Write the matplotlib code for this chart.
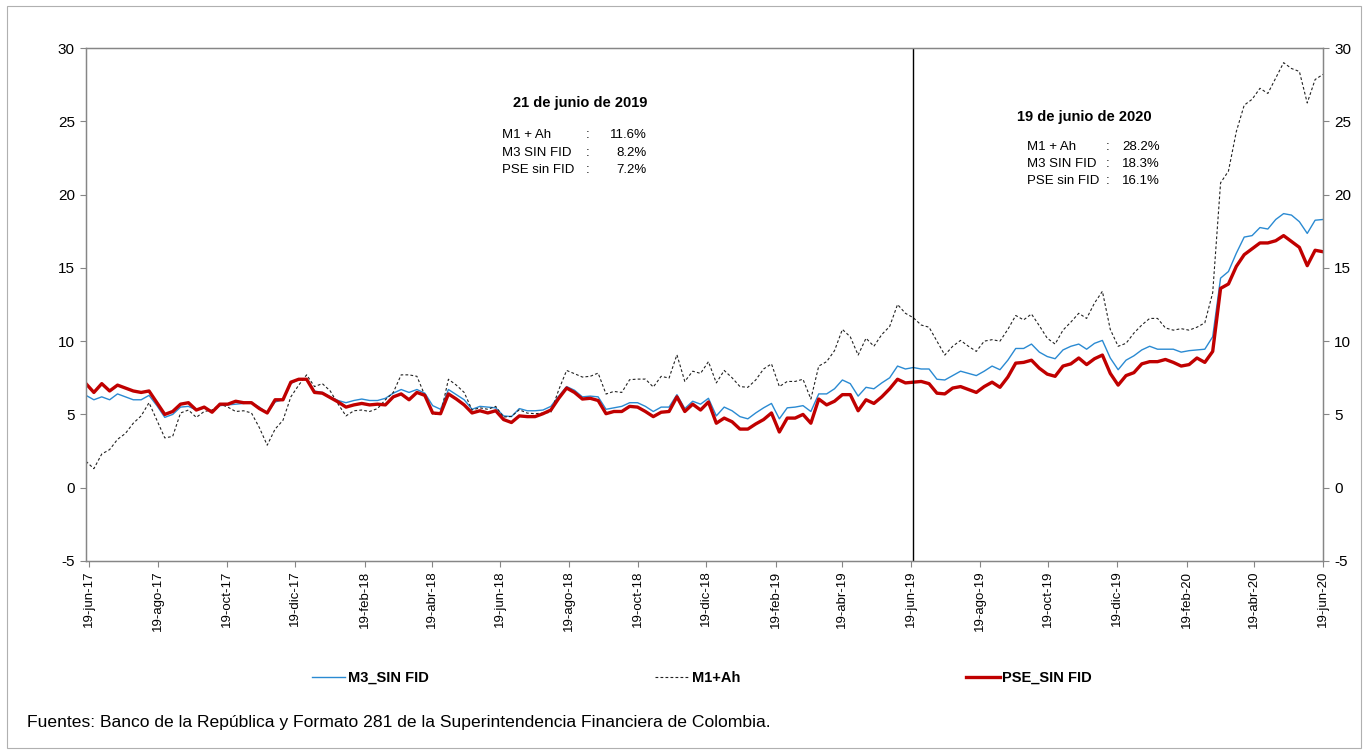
import numpy as np
import pandas as pd
import matplotlib
matplotlib.use("Agg")
import matplotlib.pyplot as plt
from matplotlib.patches import Rectangle

plt.rcParams['font.family'] = ['Liberation Sans', 'DejaVu Sans']
plt.rcParams['axes.unicode_minus'] = False

# weekly growth rates (%), last point 19-jun-2020
m3_sin_fid = [
    6.3, 6.0, 6.2, 6.0, 6.4, 6.2, 6.0, 6.0, 6.3, 5.6, 4.8, 5.0, 5.5, 5.55, 5.3, 5.45, 5.2, 5.6, 5.65, 5.7,
    5.75, 5.8, 5.5, 5.1, 5.85, 6.0,
    7.1, 7.4, 7.4, 6.6, 6.5, 6.2, 5.95, 5.8, 5.95, 6.05, 5.95, 5.95, 6.1, 6.45, 6.7, 6.5, 6.7, 6.45, 5.6, 5.35,
    6.7, 6.35, 6.0, 5.35, 5.55, 5.5,
    5.45, 4.9, 4.85, 5.4, 5.25, 5.25, 5.3, 5.55, 6.25, 6.9, 6.65, 6.2, 6.25, 6.2, 5.35, 5.45, 5.55, 5.8, 5.8,
    5.55, 5.2, 5.5, 5.5, 6.35,
    5.4, 5.9, 5.7, 6.1, 4.9, 5.5, 5.25, 4.85, 4.7, 5.1, 5.45, 5.75, 4.7, 5.45, 5.5, 5.6, 5.2, 6.4, 6.4, 6.75,
    7.35, 7.1, 6.25, 6.85, 6.75, 7.15, 7.5, 8.3, 8.1,
    8.2,
    8.1, 8.1, 7.4, 7.35, 7.65, 7.95, 7.8, 7.65, 7.95, 8.3, 8.05, 8.7, 9.5, 9.5, 9.8, 9.25, 8.95, 8.8, 9.4, 9.65,
    9.8, 9.45, 9.85, 10.05, 8.85, 8.05, 8.7, 9.0, 9.4, 9.65, 9.45, 9.45, 9.45, 9.25, 9.35, 9.4, 9.45, 10.3,
    14.3, 14.75, 16.0, 17.1, 17.2, 17.75, 17.65, 18.3, 18.7, 18.6, 18.15, 17.35, 18.25, 18.3,
]
m1_ah = [
    1.8, 1.3, 2.3, 2.6, 3.3, 3.7, 4.4, 4.9, 5.8, 4.6, 3.4, 3.5, 5.1, 5.3, 4.8, 5.2, 5.3, 5.7, 5.5, 5.2,
    5.25, 5.1, 4.1, 2.9, 4.0, 4.6,
    6.2, 7.0, 7.7, 6.9, 7.1, 6.6, 5.7, 4.9, 5.25, 5.3, 5.2, 5.4, 6.0, 6.5, 7.7, 7.7, 7.6, 6.3, 5.0, 5.0,
    7.4, 7.0, 6.5, 5.3, 5.45, 5.35,
    5.55, 4.82, 4.87, 5.32, 5.09, 5.05, 5.09, 5.14, 6.68, 8.0, 7.78, 7.55, 7.6, 7.82, 6.39, 6.57, 6.5, 7.37,
    7.41, 7.41, 6.87, 7.6, 7.48, 9.07,
    7.25, 7.95, 7.8, 8.6, 7.15, 8.0, 7.5, 6.9, 6.85, 7.35, 8.1, 8.45, 6.9, 7.25, 7.25, 7.4, 6.05, 8.3, 8.6,
    9.35, 10.8, 10.3, 9.05, 10.2, 9.65, 10.45, 11.0, 12.5, 11.9,
    11.6,
    11.1, 10.95, 10.0, 9.05, 9.65, 10.05, 9.65, 9.3, 10.0, 10.1, 10.0, 10.8, 11.75, 11.45, 11.85, 11.05, 10.2,
    9.8, 10.75, 11.3, 11.9, 11.55, 12.6, 13.4, 10.8, 9.65, 9.85, 10.55, 11.1, 11.55, 11.55, 10.9, 10.75,
    10.85, 10.75, 10.95, 11.25, 13.3, 20.8, 21.6, 24.3, 26.1, 26.5, 27.25, 26.9, 27.95, 29.0, 28.6, 28.4,
    26.25, 27.85, 28.2,
]
pse_sin_fid = [
    7.1, 6.5, 7.1, 6.6, 7.0, 6.8, 6.6, 6.5, 6.6, 5.8, 5.0, 5.2, 5.7, 5.8, 5.3, 5.5, 5.15, 5.7, 5.7, 5.9,
    5.8, 5.8, 5.4, 5.1, 6.0, 6.0,
    7.2, 7.4, 7.4, 6.5, 6.45, 6.15, 5.85, 5.5, 5.65, 5.75, 5.65, 5.7, 5.65, 6.2, 6.4, 6.0, 6.5, 6.3, 5.1, 5.05,
    6.4, 6.05, 5.65, 5.1, 5.25, 5.1,
    5.25, 4.65, 4.45, 4.9, 4.85, 4.85, 5.05, 5.3, 6.1, 6.8, 6.5, 6.05, 6.1, 5.95, 5.05, 5.2, 5.2, 5.55, 5.5,
    5.2, 4.85, 5.15, 5.2, 6.2,
    5.2, 5.7, 5.3, 5.85, 4.4, 4.75, 4.5, 4.0, 4.0, 4.35, 4.65, 5.1, 3.8, 4.75, 4.75, 5.0, 4.4, 6.05, 5.65,
    5.9, 6.35, 6.35, 5.25, 6.0, 5.75, 6.2, 6.75, 7.4, 7.15,
    7.2,
    7.25, 7.1, 6.45, 6.4, 6.8, 6.9, 6.7, 6.5, 6.9, 7.2, 6.85, 7.55, 8.5, 8.55, 8.7, 8.15, 7.75, 7.6, 8.3, 8.45,
    8.85, 8.4, 8.8, 9.05, 7.8, 7.0, 7.65, 7.85, 8.45, 8.6, 8.6, 8.75, 8.55, 8.3, 8.4, 8.85, 8.55, 9.3,
    13.6, 13.9, 15.1, 15.9, 16.3, 16.7, 16.7, 16.85, 17.2, 16.8, 16.4, 15.15, 16.2, 16.1,
]

series_names = ['M3_SIN FID', 'M1+Ah', 'PSE_SIN FID']
meses = ['ene', 'feb', 'mar', 'abr', 'may', 'jun', 'jul', 'ago', 'sep', 'oct', 'nov', 'dic']

corte_2019 = '2019-06-21'
titulo_2019 = '21 de junio de 2019'
titulo_2020 = '19 de junio de 2020'
etiquetas_cuadro = ['M1 + Ah', 'M3 SIN FID', 'PSE sin FID']
valores_2019 = ['11.6%', '8.2%', '7.2%']
valores_2020 = ['28.2%', '18.3%', '16.1%']
fuente = 'Fuentes: Banco de la República y Formato 281 de la Superintendencia Financiera de Colombia.'

n = len(pse_sin_fid)
fechas = pd.date_range(end='2020-06-19', periods=n, freq='7D')
tick_fechas = pd.date_range('2017-06-19', '2020-06-19', freq=pd.DateOffset(months=2))
tick_labels = ['%d-%s-%s' % (d.day, meses[d.month - 1], d.strftime('%y')) for d in tick_fechas]

W, H = 1365, 751
fig = plt.figure(figsize=(W / 100, H / 100), dpi=100)
fig.patches.append(Rectangle((7 / W, 3 / H), 1354 / W, 742 / H, transform=fig.transFigure,
                             fill=False, edgecolor='#b0b0b0', linewidth=0.8))

ax = fig.add_axes([86 / W, 1 - 561 / H, (1323 - 86) / W, (561 - 48) / H])
l1, = ax.plot(fechas, m3_sin_fid, color='#2a8ad2', linewidth=1.0, label=series_names[0])
l2, = ax.plot(fechas, m1_ah, color='#222222', linewidth=0.8, linestyle=(0, (2.5, 2)), label=series_names[1])
l3, = ax.plot(fechas, pse_sin_fid, color='#c00000', linewidth=2.4, label=series_names[2])
ax.axvline(pd.Timestamp(corte_2019), color='black', linewidth=1.0)

ax.set_xlim(fechas[0], fechas[-1])
ax.set_ylim(-5, 30)
ax.set_yticks(np.arange(-5, 31, 5))
ax.set_xticks(tick_fechas)
ax.set_xticklabels(tick_labels, rotation=90, fontsize=9.5)
ax.tick_params(axis='y', labelsize=11, length=4, color='#868686', pad=4)
ax.tick_params(axis='x', length=4, color='#868686', pad=3)
for s in ax.spines.values():
    s.set_color('#868686')
    s.set_linewidth(1.0)

ax2 = ax.twinx()
ax2.set_ylim(-5, 30)
ax2.set_yticks(np.arange(-5, 31, 5))
ax2.tick_params(axis='y', labelsize=11, length=4, color='#868686', pad=4)
for s in ax2.spines.values():
    s.set_color('#868686')

# recuadros de texto
def cuadro(titulo, valores, xc, yt, xl, xcol, xv, ys):
    fig.text(xc / W, 1 - yt / H, titulo, ha='center', va='center', fontsize=10.5, fontweight='bold')
    for lab, val, y in zip(etiquetas_cuadro, valores, ys):
        fig.text(xl / W, 1 - y / H, lab, ha='left', va='center', fontsize=9.5)
        fig.text(xcol / W, 1 - y / H, ':', ha='center', va='center', fontsize=9.5)
        fig.text(xv / W, 1 - y / H, val, ha='right', va='center', fontsize=9.5)

cuadro(titulo_2019, valores_2019, 580, 103, 502, 588, 647, [135, 153, 170])
cuadro(titulo_2020, valores_2020, 1084, 117, 1027, 1108, 1160, [147, 164, 181])

fig.legend([l1, l2, l3], series_names, loc='center', bbox_to_anchor=(702 / W, 1 - 678 / H), ncol=3,
           frameon=False, handlelength=2.3, columnspacing=15.5, handletextpad=0.2,
           prop={'weight': 'bold', 'size': 10.5})

fig.text(27 / W, 1 - 723 / H, fuente, ha='left', va='center', fontsize=12.6)

fig.savefig('out.png', dpi=100)
